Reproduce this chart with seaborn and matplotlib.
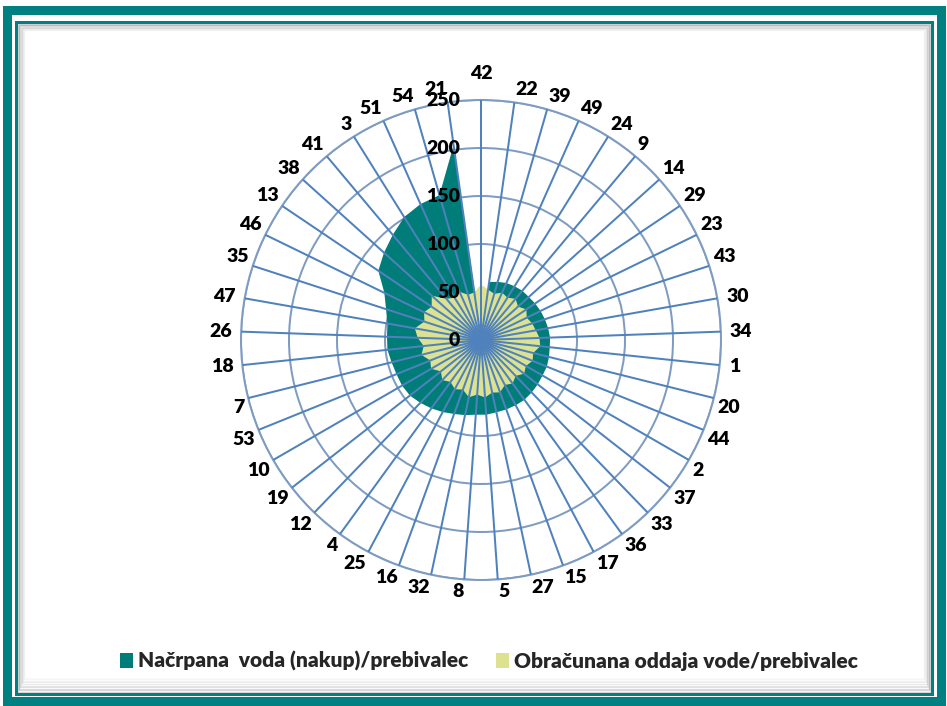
import numpy as np
import matplotlib
matplotlib.use('Agg')
import matplotlib.pyplot as plt
from matplotlib.patches import Rectangle, Patch
import seaborn as sns

# kategorije (obcine), v smeri urinega kazalca od vrha
categories = ['42', '22', '39', '49', '24', '9', '14', '29', '23', '43',
              '30', '34', '1', '20', '44', '2', '37', '33', '36', '17',
              '15', '27', '5', '8', '32', '16', '25', '4', '12', '19',
              '10', '53', '7', '18', '26', '47', '35', '46', '13', '38',
              '41', '3', '51', '54', '21']

# Načrpana voda (nakup)/prebivalec
nacrpana = [5, 61, 63, 65, 66, 67, 67, 68, 69, 70,
            71, 72, 72, 73, 74, 74, 75, 76, 77, 77,
            77, 77, 78, 78, 80, 82, 85, 88, 91, 94,
            95, 95, 96, 98, 98, 99, 104, 112, 129, 136,
            143, 151, 155, 157, 205]

# Obračunana oddaja vode/prebivalec
obracunana = [58, 53, 50, 54, 52, 56, 52, 57, 53, 56,
              58, 61, 62, 56, 58, 54, 57, 52, 56, 53,
              58, 56, 60, 57, 61, 55, 58, 54, 58, 53,
              60, 57, 64, 60, 66, 70, 62, 66, 62, 69,
              56, 52, 55, 49, 50]

series_names = ['Načrpana  voda (nakup)/prebivalec', 'Obračunana oddaja vode/prebivalec']
r_ticks = [0, 50, 100, 150, 200, 250]

TEAL = '#007D78'
FRAME = '#008080'
YELLOW = '#DCE290'
SPOKE = '#4F81BD'
RING = '#7E9CC2'

sns.set_theme(style='white')
plt.rcParams['font.family'] = ['Lato', 'DejaVu Sans']
WEIGHT = 'heavy'

W, H = 947, 706
fig = plt.figure(figsize=(W / 100, H / 100), dpi=100)
fig.patch.set_facecolor('white')


def px(v):
    # piksli -> točke
    return v * 0.72


def rect(x0, y0, x1, y1, **kw):
    # pravokotnik v pikslih, izhodišče zgoraj levo
    r = Rectangle((x0 / W, 1 - y1 / H), (x1 - x0) / W, (y1 - y0) / H,
                  transform=fig.transFigure, fill=False, **kw)
    fig.add_artist(r)


# okvir
rect(7, 10, 941, 701, edgecolor=FRAME, lw=px(9))
rect(16, 22, 932, 694, edgecolor=FRAME, lw=px(3))
# senca znotraj okvirja
for k in range(10):
    a = 0.28 * (1 - k / 10)
    rect(18 + k * 0.7, 24 + k * 0.7, 930 - k * 0.7, 692 - k * 1.6,
         edgecolor=(0.42, 0.42, 0.42, a), lw=px(1.2))

# radar
ax = fig.add_axes([241 / W, 126 / H, 480 / W, 480 / H], projection='polar')
ax.set_theta_zero_location('N')
ax.set_theta_direction(-1)

n = len(categories)
theta = np.arange(n) * 2 * np.pi / n
t_closed = np.append(theta, theta[0])

ax.fill(t_closed, nacrpana + nacrpana[:1], color=TEAL, lw=0, zorder=1)
ax.fill(t_closed, obracunana + obracunana[:1], color=YELLOW, lw=0, zorder=2)

ax.set_ylim(0, 250)
ax.set_yticks(r_ticks)
ax.set_yticklabels([])
ax.set_xticks(theta)
ax.set_xticklabels([])
ax.xaxis.grid(False)
ax.yaxis.grid(True, color=RING, lw=px(2), zorder=0.5)
ax.set_axisbelow(True)
ax.spines['polar'].set_color(RING)
ax.spines['polar'].set_linewidth(px(2))
ax.tick_params(axis='both', length=0)

# žarki
ax.vlines(theta, 0, 250, color=SPOKE, lw=px(2), zorder=3)

# oznake vrednosti
for v in r_ticks:
    ax.annotate(str(v), xy=(0, v), xytext=(-px(21), 0), textcoords='offset points',
                ha='right', va='center', fontsize=14, fontweight=WEIGHT,
                color='black', zorder=5)

# oznake kategorij
for t, lab in zip(theta, categories):
    s, c = np.sin(t), np.cos(t)
    if abs(s) < 0.05:
        ha, va, gap = 'center', 'bottom', 18
        if c < 0:
            va = 'top'
    elif abs(c) < 0.2:
        ha = 'left' if s > 0 else 'right'
        va, gap = 'center', 9
    else:
        ha = 'left' if s > 0 else 'right'
        va = 'bottom' if c > 0 else 'top'
        gap = 4
    ax.annotate(lab, xy=(t, 250), xytext=(px(gap * s), px(gap * c)),
                textcoords='offset points', ha=ha, va=va, fontsize=14,
                fontweight=WEIGHT, color='black', annotation_clip=False)

handles = [Patch(facecolor=TEAL, edgecolor='none'),
           Patch(facecolor=YELLOW, edgecolor='none')]
fig.legend(handles, series_names, loc='center', bbox_to_anchor=(489 / W, 45 / H),
           ncol=2, frameon=False, handlelength=0.65, handleheight=0.75,
           handletextpad=0.25, columnspacing=1.3,
           prop={'weight': WEIGHT, 'size': 15})

fig.savefig('out.png', dpi=100, facecolor='white')
